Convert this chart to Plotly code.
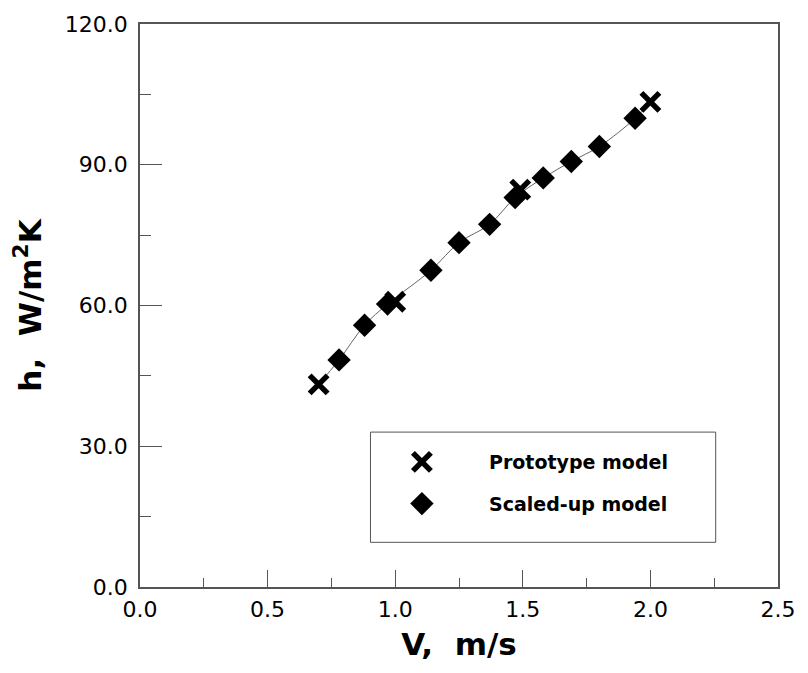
import plotly.graph_objects as go

# ---- data ----
proto_v = [0.70, 1.00, 1.49, 2.00]
proto_h = [43.2, 60.8, 84.7, 103.4]

scaled_v = [0.78, 0.88, 0.97, 1.14, 1.25, 1.37, 1.47, 1.58, 1.69, 1.80, 1.94]
scaled_h = [48.4, 55.8, 60.3, 67.5, 73.4, 77.3, 83.0, 87.2, 90.7, 93.9, 99.9]

# smooth curve through the end prototype points and the scaled-up points
curve_v = [proto_v[0]] + scaled_v + [proto_v[-1]]
curve_h = [proto_h[0]] + scaled_h + [proto_h[-1]]

x_ticks = [0.0, 0.5, 1.0, 1.5, 2.0, 2.5]
y_ticks = [0.0, 30.0, 60.0, 90.0, 120.0]

legend_labels = ["Prototype model", "Scaled-up model"]

TICK_FONT = dict(family="DejaVu Sans", size=22, color="black")
TITLE_FONT = dict(family="DejaVu Sans", size=31, color="black", weight="bold")
LEG_FONT = dict(family="DejaVu Sans", size=19, color="black", weight="bold")
AX_COLOR = "#555555"

X_MARK = dict(symbol="x-thin", size=18, color="black", line=dict(color="black", width=5.5))
D_MARK = dict(symbol="diamond", size=18, color="black")

fig = go.Figure()

fig.add_trace(go.Scatter(
    x=curve_v, y=curve_h, mode="lines", line=dict(color="#666666", width=1, shape="spline"),
    hoverinfo="skip", showlegend=False))

fig.add_trace(go.Scatter(
    x=scaled_v, y=scaled_h, mode="markers", name=legend_labels[1],
    marker=D_MARK, showlegend=False))

fig.add_trace(go.Scatter(
    x=proto_v, y=proto_h, mode="markers", name=legend_labels[0],
    marker=X_MARK, showlegend=False))

# ---- manual legend on an overlay axis measured in pixels ----
fig.add_trace(go.Scatter(
    x=[425], y=[461], mode="markers", xaxis="x2", yaxis="y2",
    marker=X_MARK, hoverinfo="skip", showlegend=False))
fig.add_trace(go.Scatter(
    x=[425], y=[503], mode="markers", xaxis="x2", yaxis="y2",
    marker=D_MARK, hoverinfo="skip", showlegend=False))

fig.add_shape(type="rect", xref="x2", yref="y2", x0=373, x1=722, y0=431, y1=542,
              line=dict(color=AX_COLOR, width=1), fillcolor="rgba(0,0,0,0)")
for lab, yy in zip(legend_labels, [461, 503]):
    fig.add_annotation(xref="x2", yref="y2", x=491, y=yy, text=lab, showarrow=False,
                       xanchor="left", yanchor="middle", font=LEG_FONT)

fig.update_layout(
    width=808, height=673,
    margin=dict(l=140, r=23, t=20, b=86),
    paper_bgcolor="white", plot_bgcolor="white",
    showlegend=False,
    xaxis=dict(
        range=[0, 2.5], tickvals=x_ticks, tickformat=".1f",
        ticks="inside", ticklen=17, tickwidth=1, tickcolor=AX_COLOR,
        minor=dict(dtick=0.25, ticks="inside", ticklen=9, tickwidth=1, tickcolor=AX_COLOR, showgrid=False),
        showgrid=False, zeroline=False,
        showline=True, linecolor=AX_COLOR, linewidth=1.5, mirror=True,
        tickfont=TICK_FONT, ticklabelstandoff=2,
        title=dict(text="V,\u00a0\u00a0m/s", font=TITLE_FONT, standoff=12),
    ),
    yaxis=dict(
        range=[0, 120], tickvals=y_ticks, tickformat=".1f",
        ticks="inside", ticklen=22, tickwidth=1, tickcolor=AX_COLOR,
        minor=dict(dtick=15, ticks="inside", ticklen=11, tickwidth=1, tickcolor=AX_COLOR, showgrid=False),
        showgrid=False, zeroline=False,
        showline=True, linecolor=AX_COLOR, linewidth=1.5, mirror=True,
        tickfont=TICK_FONT, ticklabelstandoff=6,
        title=dict(text="h,\u00a0\u00a0W/m<sup>2</sup>K", font=TITLE_FONT, standoff=14),
    ),
    xaxis2=dict(range=[140, 785], overlaying="x", visible=False, fixedrange=True),
    yaxis2=dict(range=[587, 20], overlaying="y", visible=False, fixedrange=True),
)

fig.write_html("out.html")
